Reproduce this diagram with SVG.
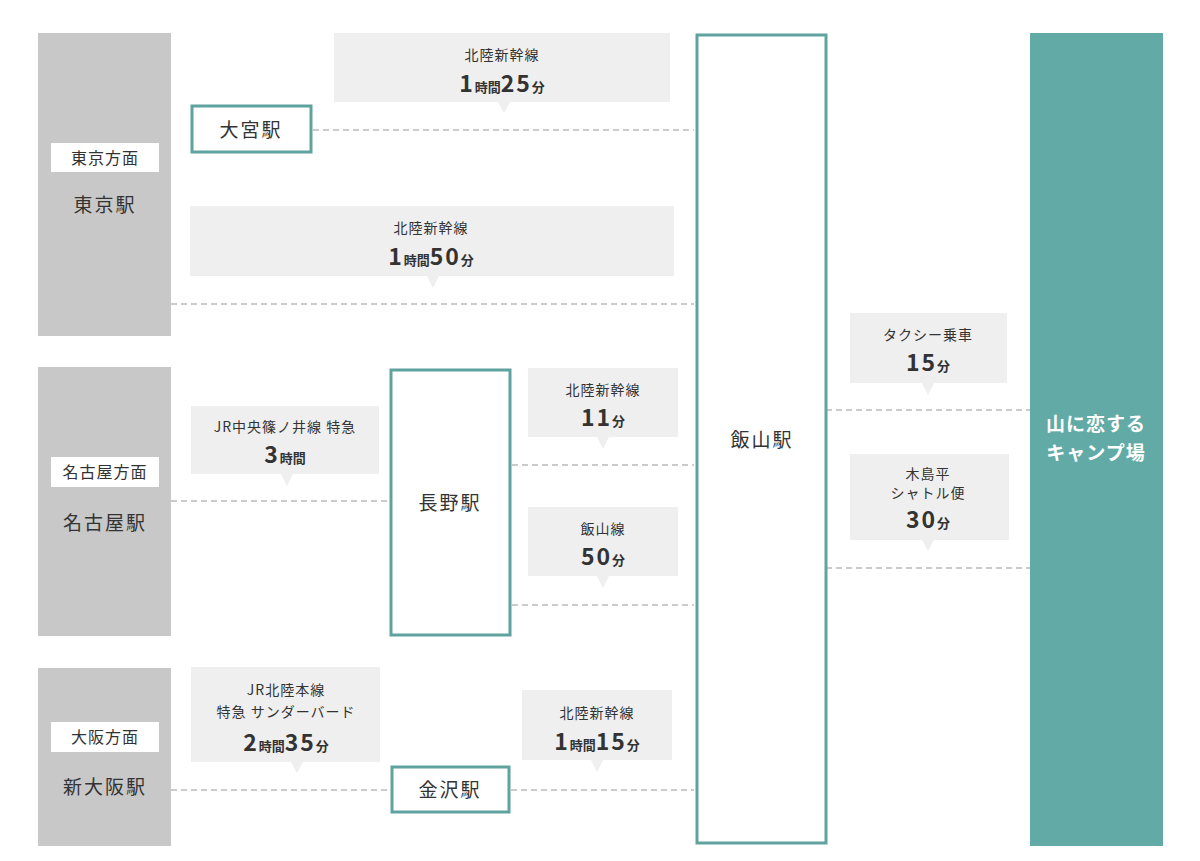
<svg xmlns="http://www.w3.org/2000/svg" width="1200" height="861" viewBox="0 0 1200 861">
<style>
text{font-family:"Noto Sans CJK JP","Noto Sans",sans-serif;fill:#333;text-anchor:middle;letter-spacing:1px}
.col{fill:#c8c8c8}
.tag{fill:#fff}
.st{fill:#fff;stroke:#5fa39f;stroke-width:3}
.co{fill:#efefef}
.ln{stroke:#bbb;stroke-width:1.5;stroke-dasharray:6 4;fill:none}
.s{font-size:14px}
.t{font-size:16px}
.m{font-size:19px;letter-spacing:2px}
.b{font-size:23px;font-weight:bold;letter-spacing:2px}
.u{font-size:13px;font-weight:bold;letter-spacing:0}
.w{fill:#fff;font-size:19px;font-weight:bold}
</style>
<g id="connectors">
<path class="ln" d="M313 130H694M171 304H694M826 410H1030M826 568H1030M171 501H388M512 465H694M512 605H694M171 790H388M511 790H694"/>
</g>
<g id="tokyo"><rect class="col" x="38" y="33" width="133" height="303"/><rect class="tag" x="51" y="143" width="108" height="29"/><text class="t" x="105" y="164">東京方面</text><text class="m" x="105" y="212">東京駅</text></g>
<g id="nagoya"><rect class="col" x="38" y="367" width="133" height="269"/><rect class="tag" x="51" y="457" width="108" height="30"/><text class="t" x="105" y="478">名古屋方面</text><text class="m" x="105" y="530">名古屋駅</text></g>
<g id="osaka"><rect class="col" x="38" y="668" width="133" height="178"/><rect class="tag" x="51" y="722" width="108" height="30"/><text class="t" x="105" y="743">大阪方面</text><text class="m" x="105" y="794">新大阪駅</text></g>
<g id="omiya"><rect class="st" x="192" y="106" width="119" height="46"/><text class="m" x="251" y="137">大宮駅</text></g>
<g id="c1"><path class="co" d="M334 33H670V102H510L504 113L498 102H334Z"/><text class="s" x="502" y="60">北陸新幹線</text><text x="502" y="92"><tspan class="b">1</tspan><tspan class="u">時間</tspan><tspan class="b">25</tspan><tspan class="u">分</tspan></text></g>
<g id="c2"><path class="co" d="M190 206H674V276H439L433 288L427 276H190Z"/><text class="s" x="431" y="233">北陸新幹線</text><text x="431" y="265"><tspan class="b">1</tspan><tspan class="u">時間</tspan><tspan class="b">50</tspan><tspan class="u">分</tspan></text></g>
<g id="iiyama"><rect class="st" x="697" y="35" width="129" height="808"/><text class="m" x="762" y="447">飯山駅</text></g>
<g id="camp"><rect x="1030" y="33" width="133" height="813" fill="#62aaa6"/><text class="w" x="1096" y="431">山に恋する</text><text class="w" x="1096" y="460">キャンプ場</text></g>
<g id="c3"><path class="co" d="M850 313H1007V383H934L928 395L922 383H850Z"/><text class="s" x="928" y="340">タクシー乗車</text><text x="928" y="371"><tspan class="b">15</tspan><tspan class="u">分</tspan></text></g>
<g id="c4"><path class="co" d="M850 454H1009V540H934L928 551L922 540H850Z"/><text class="s" x="928" y="479">木島平</text><text class="s" x="928" y="498">シャトル便</text><text x="928" y="528"><tspan class="b">30</tspan><tspan class="u">分</tspan></text></g>
<g id="nagano"><rect class="st" x="391" y="370" width="119" height="265"/><text class="m" x="450" y="510">長野駅</text></g>
<g id="c5"><path class="co" d="M191 406H379V474H293L287 486L281 474H191Z"/><text class="s" x="285" y="432">JR中央篠ノ井線 特急</text><text x="285" y="463"><tspan class="b">3</tspan><tspan class="u">時間</tspan></text></g>
<g id="c6"><path class="co" d="M528 368H678V437H609L603 449L597 437H528Z"/><text class="s" x="603" y="395">北陸新幹線</text><text x="603" y="426"><tspan class="b">11</tspan><tspan class="u">分</tspan></text></g>
<g id="c7"><path class="co" d="M528 507H678V576H609L603 588L597 576H528Z"/><text class="s" x="603" y="534">飯山線</text><text x="603" y="565"><tspan class="b">50</tspan><tspan class="u">分</tspan></text></g>
<g id="c8"><path class="co" d="M191 667H380V762H303L297 773L291 762H191Z"/><text class="s" x="286" y="695">JR北陸本線</text><text class="s" x="286" y="717">特急 サンダーバード</text><text x="286" y="751"><tspan class="b">2</tspan><tspan class="u">時間</tspan><tspan class="b">35</tspan><tspan class="u">分</tspan></text></g>
<g id="kanazawa"><rect class="st" x="392" y="767" width="117" height="45"/><text class="m" x="450" y="797">金沢駅</text></g>
<g id="c9"><path class="co" d="M522 690H672V760H603L597 772L591 760H522Z"/><text class="s" x="597" y="718">北陸新幹線</text><text x="597" y="750"><tspan class="b">1</tspan><tspan class="u">時間</tspan><tspan class="b">15</tspan><tspan class="u">分</tspan></text></g>
</svg>
